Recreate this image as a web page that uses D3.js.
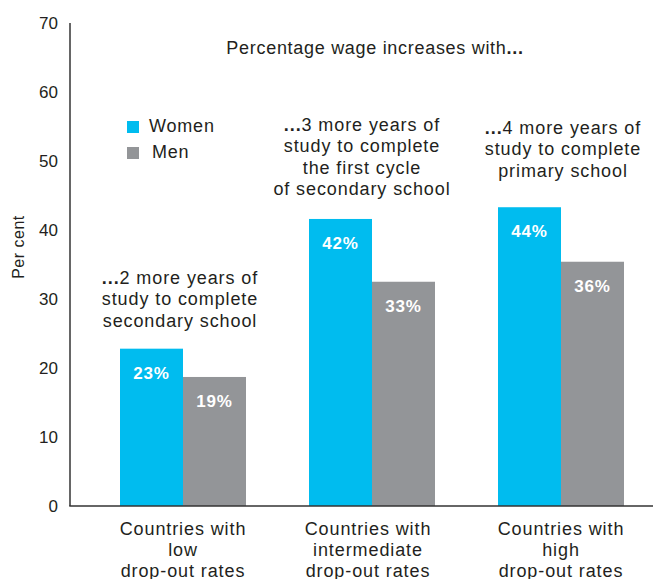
<!DOCTYPE html>
<html><head><meta charset="utf-8">
<script src="https://cdn.jsdelivr.net/npm/d3@7"></script>
<style>body{margin:0;background:#fff}text{font-family:"Liberation Sans",Arial,Helvetica,sans-serif;fill:#231f20}</style>
</head><body><svg id="c" width="653" height="579"></svg>
<script>
const categories = ["low", "intermediate", "high"];
const categoryLabels = [["Countries with","low","drop-out rates"],["Countries with","intermediate","drop-out rates"],["Countries with","high","drop-out rates"]];
const series = ["Women", "Men"];
const women = [22.8, 41.6, 43.3];
const men = [18.7, 32.5, 35.4];
const womenLabels = ["23%", "42%", "44%"];
const menLabels = ["19%", "33%", "36%"];
const yTicks = [0, 10, 20, 30, 40, 50, 60, 70];
const annotations = [
  ["...", "2 more years of", "study to complete", "secondary school"],
  ["...", "3 more years of", "study to complete", "the first cycle", "of secondary school"],
  ["...", "4 more years of", "study to complete", "primary school"]
];
const title = "Percentage wage increases with";
const colors = ["#00bcef", "#939598"];

const svg = d3.select("#c");
const y = d3.scaleLinear().domain([0, 70]).range([506, 23]);
const x0 = d3.scaleBand().domain(categories).range([88.5, 655.5]).paddingInner(1/3).paddingOuter(1/6);
const x1 = d3.scaleBand().domain(series).range([0, x0.bandwidth()]);

// axes
svg.append("line").attr("x1",70).attr("x2",70).attr("y1",y(70)).attr("y2",y(0)).attr("stroke","#333").attr("stroke-width",1.5);
const yAxis = d3.axisLeft(y).tickValues(yTicks).tickSize(0).tickPadding(12);
const ga = svg.append("g").attr("transform","translate(70,0)").call(yAxis);
ga.select(".domain").remove();
ga.selectAll("text").style("font-size","17px").attr("fill","#231f20").style("font-family",'"Liberation Sans",Arial,sans-serif');

svg.append("text").attr("transform","translate(24,247) rotate(-90)").attr("text-anchor","middle").style("font-size","16px").style("letter-spacing","0.5px").text("Per cent");

// bars
const data = categories.map((c,i)=>({c, vals:[{s:"Women",v:women[i],l:womenLabels[i]},{s:"Men",v:men[i],l:menLabels[i]}]}));
const g = svg.selectAll(".grp").data(data).join("g").attr("transform",d=>`translate(${x0(d.c)},0)`);
g.selectAll("rect").data(d=>d.vals).join("rect")
  .attr("x",d=>x1(d.s)).attr("width",x1.bandwidth())
  .attr("y",d=>y(d.v)).attr("height",d=>y(0)-y(d.v))
  .attr("fill",(d,i)=>colors[i]);
g.selectAll("text.v").data(d=>d.vals).join("text").attr("class","v")
  .attr("x",d=>x1(d.s)+x1.bandwidth()/2).attr("y",d=>y(d.v)+30)
  .attr("text-anchor","middle").style("font-size","17px").style("font-weight","bold").style("letter-spacing","0.8px").style("fill","#fff")
  .text(d=>d.l);

svg.append("line").attr("x1",69.25).attr("x2",653).attr("y1",y(0)).attr("y2",y(0)).attr("stroke","#333").attr("stroke-width",1.5);

// category labels
const catOffsets = [0, -4, 0];
categories.forEach((c,i)=>{
  const t = svg.append("text").attr("text-anchor","middle").style("font-size","18px").style("letter-spacing","0.9px");
  categoryLabels[i].forEach((ln,j)=>{
    t.append("tspan").attr("x",x0(c)+x0.bandwidth()/2+catOffsets[i]).attr("y",535+j*21).text(ln);
  });
});

// annotations
const annTop = [284, 131, 134];
const annDx = [-3, -10, 2];
annotations.forEach((a,i)=>{
  const cx = x0(categories[i])+x0.bandwidth()/2+annDx[i];
  const lines = a.slice(1);
  const t = svg.append("text").attr("text-anchor","middle").style("font-size","18px").style("letter-spacing","0.9px");
  lines.forEach((ln,j)=>{
    const ts = t.append("tspan").attr("x",cx).attr("y",annTop[i]+j*21.3);
    if(j===0){ ts.append("tspan").style("font-weight","bold").text(a[0]); ts.append("tspan").text(ln); }
    else ts.text(ln);
  });
});

// title
const tt = svg.append("text").attr("x",375).attr("y",54).attr("text-anchor","middle").style("font-size","18px").style("letter-spacing","0.7px");
tt.append("tspan").text(title);
tt.append("tspan").style("font-weight","bold").text("...");

// legend
series.forEach((s,i)=>{
  svg.append("rect").attr("x",127).attr("y",121+i*26).attr("width",12).attr("height",12).attr("fill",colors[i]);
  svg.append("text").attr("x",149+i*3).attr("y",132+i*26).style("font-size","18px").style("letter-spacing","0.8px").text(s);
});
</script></body></html>
